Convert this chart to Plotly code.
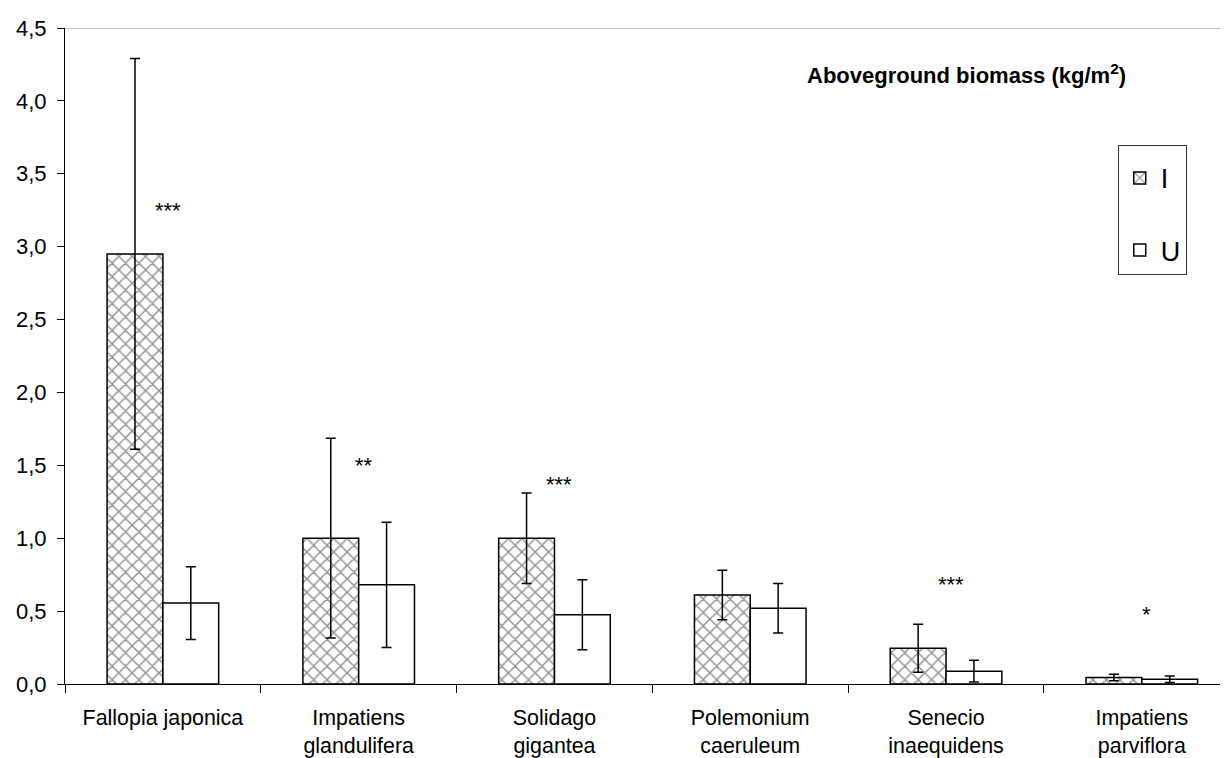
import plotly.graph_objects as go

categories = ["Fallopia japonica", "Impatiens<br>glandulifera", "Solidago<br>gigantea",
              "Polemonium<br>caeruleum", "Senecio<br>inaequidens", "Impatiens<br>parviflora"]
I_vals = [2.95, 1.00, 1.00, 0.61, 0.245, 0.045]
I_err = [1.34, 0.685, 0.31, 0.17, 0.165, 0.022]
U_vals = [0.555, 0.68, 0.475, 0.52, 0.088, 0.033]
U_err = [0.25, 0.43, 0.24, 0.17, 0.075, 0.022]
sig_labels = ["***", "**", "***", "", "***", "*"]
sig_y = [3.25, 1.50, 1.37, None, 0.68, 0.48]
y_ticks = [0.0, 0.5, 1.0, 1.5, 2.0, 2.5, 3.0, 3.5, 4.0, 4.5]

FONT = "Liberation Sans, Arial, sans-serif"

fig = go.Figure()
fig.add_trace(go.Bar(
    x=categories, y=I_vals, name="I", legendgroup="I",
    marker=dict(color="white", line=dict(color="black", width=1.5),
                pattern=dict(shape="x", fgcolor="#222222", bgcolor="white", size=9.5, solidity=0.28)),
    error_y=dict(type="data", array=I_err, visible=True, color="black", thickness=1.5, width=5),
))
fig.add_trace(go.Bar(
    x=categories, y=U_vals, name="U", legendgroup="U",
    marker=dict(color="white", line=dict(color="black", width=1.5)),
    error_y=dict(type="data", array=U_err, visible=True, color="black", thickness=1.5, width=5),
))

for c, s, yv in zip(categories, sig_labels, sig_y):
    if s:
        fig.add_annotation(x=c, y=yv, text=s, showarrow=False, xshift=5,
                           font=dict(family=FONT, size=22, color="black"), yanchor="middle")

fig.add_annotation(xref="paper", yref="paper", x=0.770, y=0.930,
                   text="<b>Aboveground biomass (kg/m<sup>2</sup>)</b>",
                   showarrow=False, font=dict(family=FONT, size=22, color="black"),
                   xanchor="center", yanchor="middle")

fig.add_shape(type="line", xref="paper", yref="y", x0=0, x1=1, y0=4.5, y1=4.5,
              line=dict(color="#808080", width=1))

fig.update_layout(
    width=1228, height=758,
    margin=dict(l=57, r=0, t=20, b=82),
    paper_bgcolor="white", plot_bgcolor="white",
    barmode="group", bargap=0.43, bargroupgap=0,
    separators=", ",
    font=dict(family=FONT, size=21, color="black"),
    legend=dict(x=0.899, y=0.8216, xanchor="left", yanchor="top",
                bgcolor="white", bordercolor="#333333", borderwidth=1,
                font=dict(family=FONT, size=27, color="black"),
                traceorder="grouped", tracegroupgap=34, itemwidth=32,
                title=dict(text=" ", font=dict(size=6))),
    xaxis=dict(range=[-0.5, 5.481], showline=True, linecolor="black", linewidth=1,
               ticks="outside", tickson="boundaries", ticklen=8, tickcolor="black",
               showgrid=False, tickfont=dict(family=FONT, size=21.4), ticklabelstandoff=14),
    yaxis=dict(range=[0, 4.5], tickvals=y_ticks, tickformat=".1f", showline=True,
               linecolor="black", linewidth=1, ticks="outside", ticklen=7, tickcolor="black",
               showgrid=False, zeroline=False, tickfont=dict(family=FONT, size=22),
               ticklabelstandoff=6),
)

fig.write_html("out.html")
